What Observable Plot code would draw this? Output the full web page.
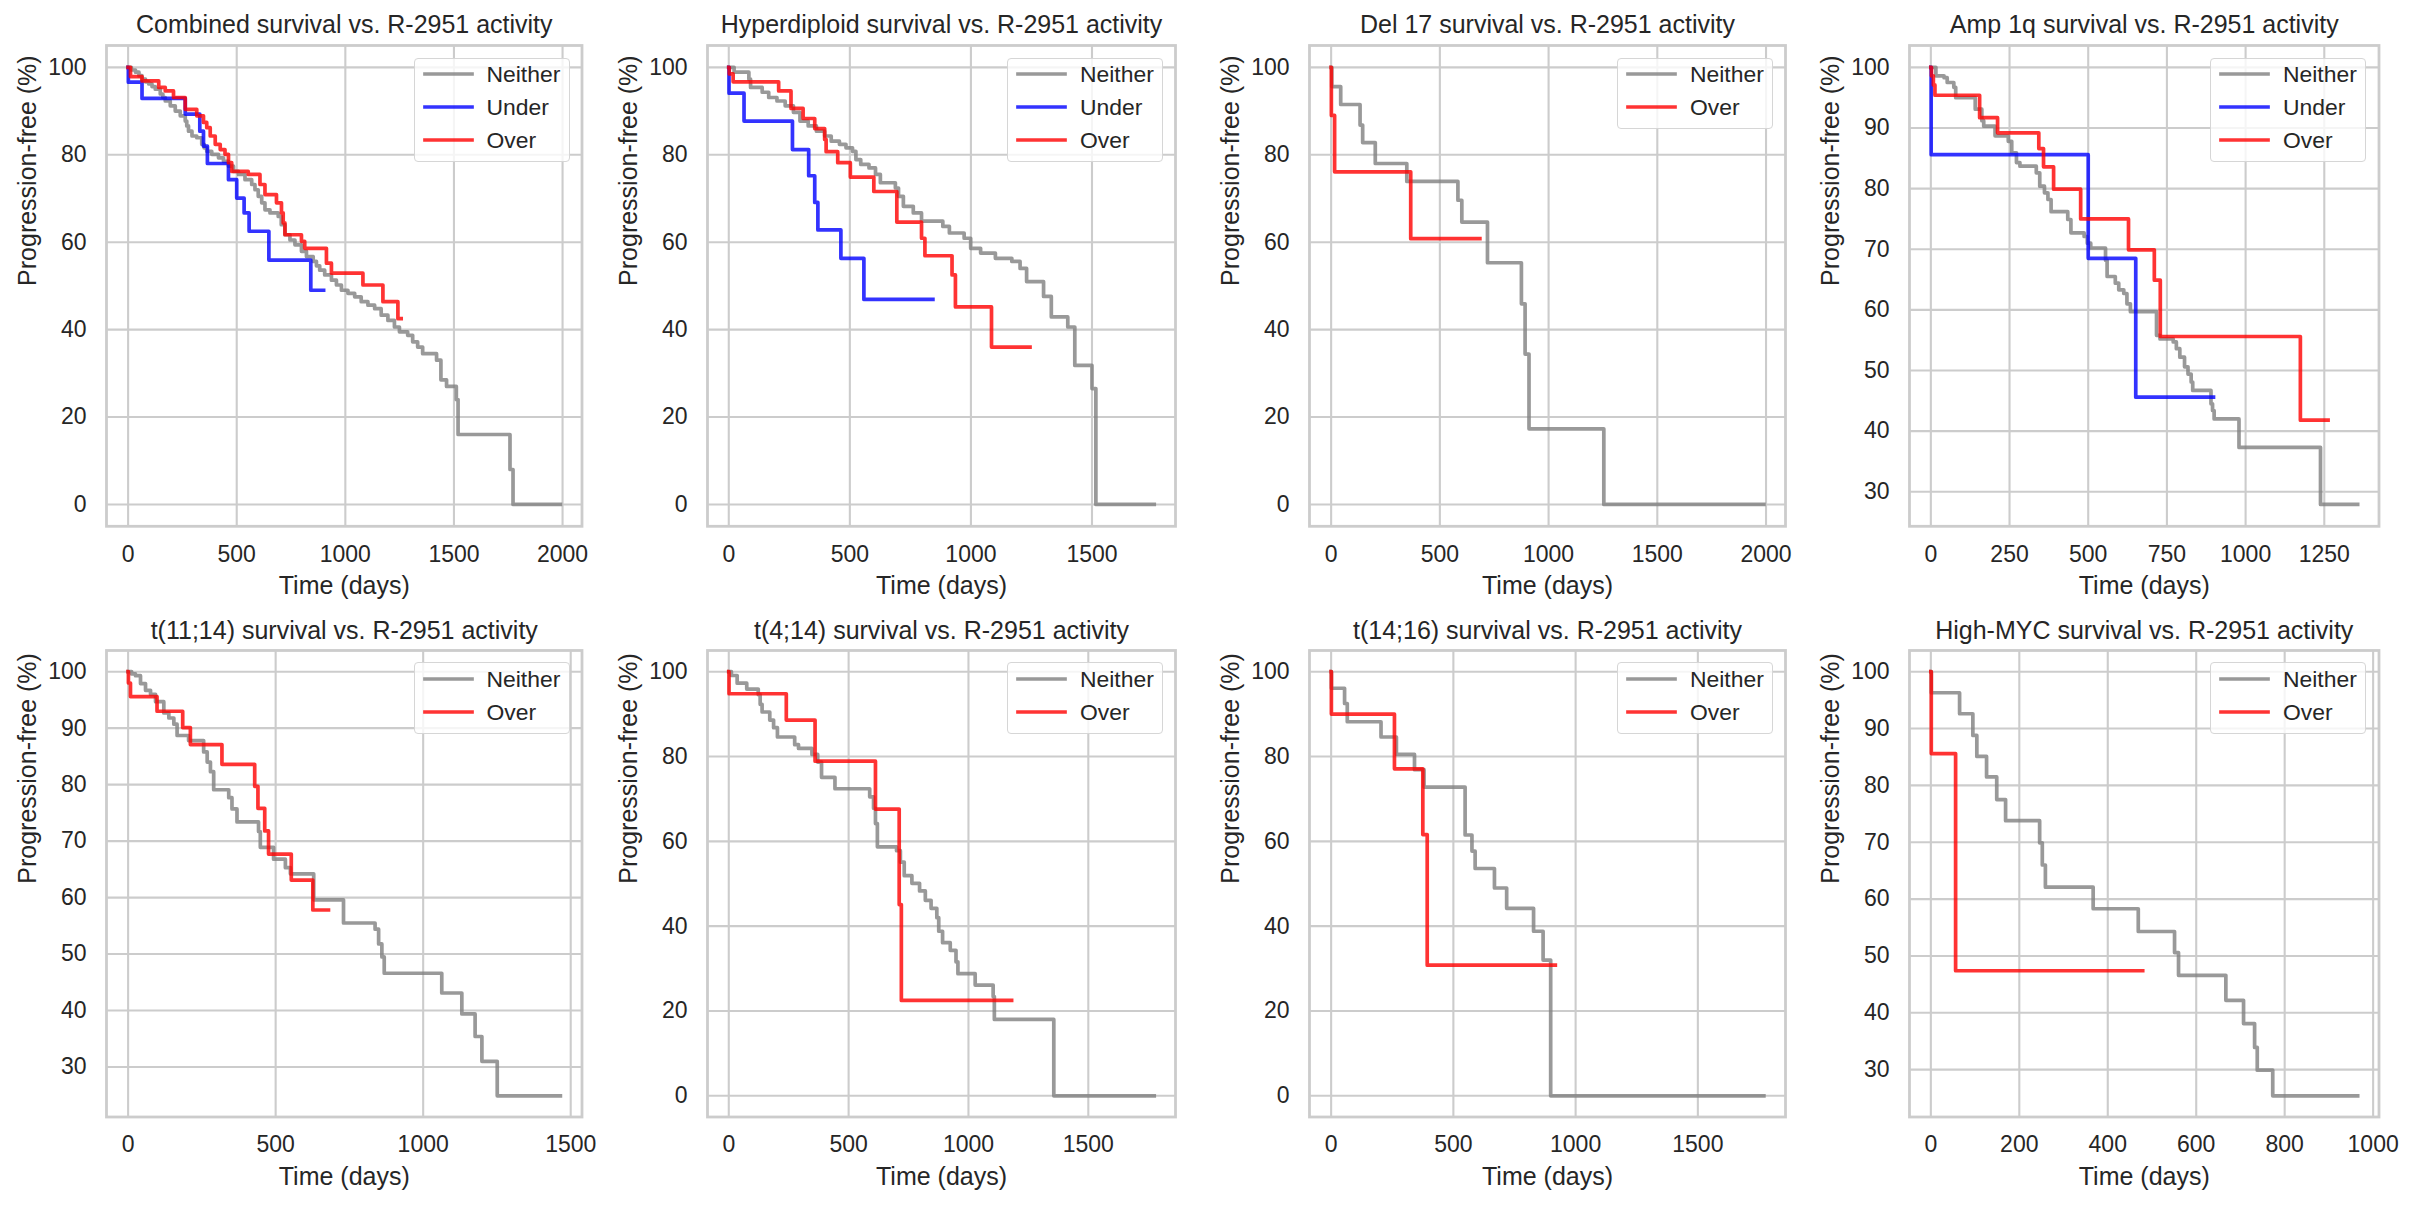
<!DOCTYPE html>
<html>
<head>
<meta charset="utf-8">
<script src="https://cdn.jsdelivr.net/npm/d3@7"></script>
<script src="https://cdn.jsdelivr.net/npm/@observablehq/plot@0.6"></script>
<style>
  html, body { margin: 0; padding: 0; background: #ffffff; }
  #root { position: relative; width: 2418px; height: 1218px; background: #ffffff;
          font-family: "Liberation Sans", Arial, sans-serif; color: #262626; overflow: hidden; }
  .panel { position: absolute; }
  .panel svg { max-width: none !important; overflow: visible; }
  .legend { position: absolute; box-sizing: border-box; border: 1.5px solid #d6d6d6;
            border-radius: 4px; background: rgba(255,255,255,0.8); }
  .legend .entry { position: absolute; left: 0; height: 30px; }
  .legend .lab { position: absolute; left: 72px; font-size: 22.9px; line-height: 30px; color: #262626; white-space: nowrap; }
  .legend svg { position: absolute; left: 8px; top: 0; }
</style>
</head>
<body>
<div id="root"></div>
<script>
// ---------------- DATA (day, % progression-free) ----------------
const seriesNames = ["Neither", "Under", "Over"];

const combinedNeither = [[0,100],[15,99.4],[34,98.9],[50,98.1],[64,97.3],[80,96.7],[95,96.2],[110,95.6],[125,95.0],[148,93.9],[160,93.1],[171,92.3],[194,91.2],[217,90.0],[240,88.9],[263,87.7],[270,86.6],[278,85.4],[294,84.3],[316,83.9],[339,82.4],[350,81.6],[362,80.8],[385,80.1],[416,79.3],[439,78.5],[462,77.4],[485,76.2],[508,75.5],[538,74.3],[569,73.2],[584,72.0],[599,70.5],[615,69.0],[630,67.4],[653,66.7],[691,65.9],[705,64.0],[722,61.7],[745,60.5],[768,59.4],[798,57.9],[821,56.7],[852,55.6],[867,54.6],[882,53.6],[905,52.5],[936,51.3],[959,50.2],[982,49.0],[1012,48.3],[1043,47.5],[1073,46.4],[1104,45.6],[1135,44.8],[1165,43.3],[1196,42.1],[1226,40.6],[1249,39.5],[1287,38.7],[1310,37.2],[1333,36.0],[1356,34.5],[1420,33.0],[1440,28.5],[1466,27.0],[1511,24.0],[1519,16.0],[1758,8.0],[1772,0],[1990,0]];
const combinedUnder = [[0,100],[1,96.6],[64,92.9],[263,89.3],[330,85.4],[347,82.0],[365,78.0],[462,74.3],[500,70.1],[534,66.7],[557,62.5],[648,55.9],[841,49.0],[900,49.0]];
const combinedOver = [[0,100],[11,97.9],[64,96.9],[141,95.4],[171,94.6],[209,93.1],[263,90.4],[316,88.9],[347,87.4],[362,86.2],[378,84.3],[401,82.4],[424,81.2],[446,80.1],[462,78.2],[477,76.2],[553,75.5],[607,73.2],[630,70.9],[683,69.0],[706,66.7],[714,64.4],[722,61.7],[798,60.2],[813,58.6],[913,55.2],[936,52.9],[1081,50.2],[1173,46.4],[1242,42.5],[1257,42.5]];

const hyperNeither = [[0,100],[22,98.9],[83,97.3],[90,95.4],[138,94.3],[165,93.1],[199,92.3],[233,91.2],[267,89.7],[294,87.7],[328,86.6],[362,85.4],[396,84.3],[423,83.1],[457,82.4],[484,81.6],[511,80.8],[525,78.9],[545,77.8],[579,77.0],[606,75.5],[626,73.6],[688,72.4],[701,70.5],[721,68.2],[762,66.7],[796,64.8],[884,63.6],[911,62.1],[972,60.9],[999,58.6],[1040,57.5],[1101,56.3],[1169,55.6],[1203,54.0],[1230,51.0],[1300,47.6],[1332,42.9],[1400,40.6],[1429,31.8],[1500,26.5],[1516,0],[1757,0]];
const hyperUnder = [[0,100],[1,94.1],[63,87.7],[263,81.2],[330,75.2],[355,69.1],[368,62.8],[463,56.3],[558,46.9],[843,46.9]];
const hyperOver = [[0,100],[2,98.5],[18,96.7],[206,94.6],[257,90.6],[307,88.3],[355,86.0],[396,83.5],[402,80.7],[450,78.2],[502,74.9],[599,71.6],[694,64.6],[796,60.9],[810,56.9],[922,52.5],[936,45.2],[1085,36.0],[1244,36.0]];

const del17Neither = [[0,100],[3,95.6],[44,91.5],[133,86.8],[145,82.8],[203,78.0],[348,73.9],[583,69.6],[601,64.6],[719,55.3],[875,45.9],[892,34.4],[910,17.3],[1254,0],[1990,0]];
const del17Over = [[0,100],[1,89.0],[16,76.1],[366,60.8],[684,60.8]];

const amp1qNeither = [[0,100],[16,98.6],[42,98.3],[52,97.5],[73,96.7],[79,95.0],[141,93.1],[162,91.2],[168,90.3],[204,88.7],[246,87.8],[257,85.9],[272,84.3],[283,83.7],[335,82.6],[346,80.4],[361,79.3],[372,78.2],[382,76.2],[435,74.9],[445,72.7],[487,72.1],[497,71.0],[508,70.2],[555,68.2],[560,65.5],[586,64.4],[597,63.3],[613,62.7],[623,61.0],[634,59.7],[717,55.8],[728,55.2],[770,54.7],[780,53.6],[791,52.2],[806,50.6],[817,49.4],[827,48.1],[832,46.7],[890,44.5],[895,43.4],[900,42.0],[979,37.3],[1238,27.9],[1356,27.9]];
const amp1qUnder = [[0,100],[1,85.6],[500,68.5],[651,45.6],[898,45.6]];
const amp1qOver = [[0,100],[2,98.6],[8,97.1],[13,95.4],[155,91.7],[212,89.2],[343,86.6],[358,83.6],[390,79.9],[476,75.0],[628,69.9],[710,64.9],[729,55.6],[1174,41.8],[1262,41.8]];

const t1114Neither = [[0,100],[12,99.6],[25,99.3],[42,97.9],[59,96.7],[76,96.0],[93,94.7],[121,92.7],[138,91.8],[155,90.7],[166,88.7],[205,87.8],[256,85.8],[268,84.0],[279,82.3],[290,79.1],[341,77.7],[352,75.7],[369,73.4],[442,71.7],[448,68.9],[493,66.8],[533,65.3],[550,64.2],[629,59.6],[730,55.5],[837,54.4],[849,51.8],[860,49.5],[868,46.6],[1063,43.1],[1131,39.4],[1176,35.4],[1199,31.0],[1251,24.9],[1465,24.9]];
const t1114Over = [[0,100],[1,98.0],[8,95.6],[98,93.0],[185,90.1],[211,87.1],[318,83.6],[429,79.7],[440,75.8],[463,71.8],[476,67.7],[553,63.1],[626,57.8],[679,57.8]];

const t414Neither = [[0,100],[11,99.1],[35,97.3],[75,95.9],[123,94.6],[131,92.3],[139,90.5],[171,88.6],[187,86.8],[203,84.6],[275,82.8],[291,81.9],[347,80.5],[371,78.7],[387,75.1],[443,72.4],[588,70.5],[604,67.8],[612,64.2],[620,58.7],[700,57.8],[716,55.1],[732,51.9],[764,50.1],[796,48.3],[820,46.1],[844,44.2],[868,42.0],[876,38.8],[892,36.1],[924,34.3],[948,31.6],[956,28.8],[1028,26.1],[1103,23.4],[1108,18.0],[1356,0],[1775,0]];
const t414Over = [[0,100],[1,94.8],[240,88.6],[360,78.9],[612,67.6],[711,45.1],[720,22.5],[1180,22.5]];

const t1416Neither = [[0,100],[1,96.1],[55,92.5],[66,88.2],[204,84.6],[267,80.5],[341,76.9],[380,72.8],[548,61.5],[576,57.7],[589,53.6],[668,49.0],[718,44.2],[828,38.8],[867,32.0],[898,0],[1770,0]];
const t1416Over = [[0,100],[1,90.0],[259,77.1],[375,61.6],[393,30.8],[917,30.8]];

const mycNeither = [[0,100],[1,96.3],[65,92.6],[95,88.8],[104,85.1],[126,81.5],[149,77.5],[169,73.8],[246,69.9],[252,66.0],[259,62.1],[367,58.3],[469,54.3],[551,50.6],[560,46.6],[667,42.2],[707,38.1],[732,33.9],[738,29.9],[773,25.4],[965,25.4]];
const mycOver = [[0,100],[1,85.6],[56,47.4],[479,47.4]];

// tick values
const xTicks2000 = [0, 500, 1000, 1500, 2000];
const xTicks1500 = [0, 500, 1000, 1500];
const xTicks1250 = [0, 250, 500, 750, 1000, 1250];
const xTicks1000 = [0, 200, 400, 600, 800, 1000];
const yTicks20 = [0, 20, 40, 60, 80, 100];
const yTicks10 = [30, 40, 50, 60, 70, 80, 90, 100];

const titles = [
  "Combined survival vs. R-2951 activity",
  "Hyperdiploid survival vs. R-2951 activity",
  "Del 17 survival vs. R-2951 activity",
  "Amp 1q survival vs. R-2951 activity",
  "t(11;14) survival vs. R-2951 activity",
  "t(4;14) survival vs. R-2951 activity",
  "t(14;16) survival vs. R-2951 activity",
  "High-MYC survival vs. R-2951 activity"
];
const xLabel = "Time (days)";
const yLabel = "Progression-free (%)";

// ---------------- PANEL DEFINITIONS ----------------
const panelSeries = [
  {Neither: combinedNeither, Under: combinedUnder, Over: combinedOver},
  {Neither: hyperNeither, Under: hyperUnder, Over: hyperOver},
  {Neither: del17Neither, Over: del17Over},
  {Neither: amp1qNeither, Under: amp1qUnder, Over: amp1qOver},
  {Neither: t1114Neither, Over: t1114Over},
  {Neither: t414Neither, Over: t414Over},
  {Neither: t1416Neither, Over: t1416Over},
  {Neither: mycNeither, Over: mycOver}
];
const panelXTicks = [xTicks2000, xTicks1500, xTicks2000, xTicks1250, xTicks1500, xTicks1500, xTicks1500, xTicks1000];
const panelYTicks = [yTicks20, yTicks20, yTicks20, yTicks10, yTicks10, yTicks20, yTicks20, yTicks10];

// ---------------- LAYOUT / STYLE ----------------
const colFrames = [[106, 581.5], [707, 1175], [1309, 1785], [1908.5, 2378]];
const rowFrames = [[45.4, 526.2], [650, 1116.5]];
const colors = {Neither: "#808080", Under: "#0000ff", Over: "#ff0000"};
const gridColor = "#cccccc";
const lineWidth = 3.7;
const ML = 100, MR = 16, MT = 46, MB = 84;

const root = document.getElementById("root");

function paddedDomain(lo, hi) {
  const p = (hi - lo) * 0.05;
  return [lo - p, hi + p];
}

panelSeries.forEach((ser, i) => {
  const col = i % 4, row = Math.floor(i / 4);
  const [fl, fr] = colFrames[col];
  const [ft, fb] = rowFrames[row];
  const fw = fr - fl, fh = fb - ft;
  const names = seriesNames.filter(n => ser[n]);
  const all = names.flatMap(n => ser[n]);
  const xDom = paddedDomain(d3.min(all, d => d[0]), d3.max(all, d => d[0]));
  const yDom = paddedDomain(d3.min(all, d => d[1]), d3.max(all, d => d[1]));
  const xt = panelXTicks[i], yt = panelYTicks[i];

  const lines = names.map(n => Plot.line(ser[n], {
    x: d => d[0], y: d => d[1], curve: "step-after",
    stroke: colors[n], strokeOpacity: 0.8, strokeWidth: lineWidth,
    strokeLinecap: "square", strokeLinejoin: "round"
  }));

  const svg = Plot.plot({
    width: ML + fw + MR,
    height: MT + fh + MB,
    marginLeft: ML, marginRight: MR, marginTop: MT, marginBottom: MB,
    style: {fontFamily: '"Liberation Sans", Arial, sans-serif', fontSize: "23px",
            color: "#262626", background: "transparent", overflow: "visible"},
    x: {domain: xDom},
    y: {domain: yDom},
    marks: [
      Plot.gridX(xt, {stroke: gridColor, strokeOpacity: 1, strokeWidth: 2.1}),
      Plot.gridY(yt, {stroke: gridColor, strokeOpacity: 1, strokeWidth: 2.1}),
      Plot.axisX(xt, {tickSize: 0, tickPadding: 19, label: null, fontSize: 23, tickFormat: d => String(d)}),
      Plot.axisY(yt, {tickSize: 0, tickPadding: 20, label: null, fontSize: 23, tickFormat: d => String(d)}),
      ...lines,
      Plot.frame({stroke: gridColor, strokeWidth: 2.8}),
      Plot.text([titles[i]], {text: d => d, frameAnchor: "top", dy: -20, fontSize: 25, lineAnchor: "middle"}),
      Plot.text([xLabel], {text: d => d, frameAnchor: "bottom", dy: 60, fontSize: 25, lineAnchor: "middle"}),
      Plot.text([yLabel], {text: d => d, frameAnchor: "left", dx: -79, rotate: -90, fontSize: 25, lineAnchor: "middle"})
    ]
  });

  const div = document.createElement("div");
  div.className = "panel";
  div.style.left = (fl - ML) + "px";
  div.style.top = (ft - MT) + "px";
  div.style.width = (ML + fw + MR) + "px";
  div.appendChild(svg);
  root.appendChild(div);

  // legend (upper right inside the axes)
  const lg = document.createElement("div");
  lg.className = "legend";
  const lw = 156, lh = names.length * 32.7 + 6;
  lg.style.left = (fr - 12 - lw) + "px";
  lg.style.top = (ft + 12.3) + "px";
  lg.style.width = lw + "px";
  lg.style.height = lh + "px";
  names.forEach((n, k) => {
    const e = document.createElement("div");
    e.className = "entry";
    e.style.top = (17.3 + k * 32.7 - 15 - 1.5) + "px";
    e.style.width = lw + "px";
    e.innerHTML = `<svg width="52" height="30"><line x1="2" x2="49" y1="15" y2="15" stroke="${colors[n]}" stroke-opacity="0.8" stroke-width="${lineWidth}" stroke-linecap="square"/></svg><span class="lab">${n}</span>`;
    lg.appendChild(e);
  });
  root.appendChild(lg);
});
</script>
</body>
</html>
